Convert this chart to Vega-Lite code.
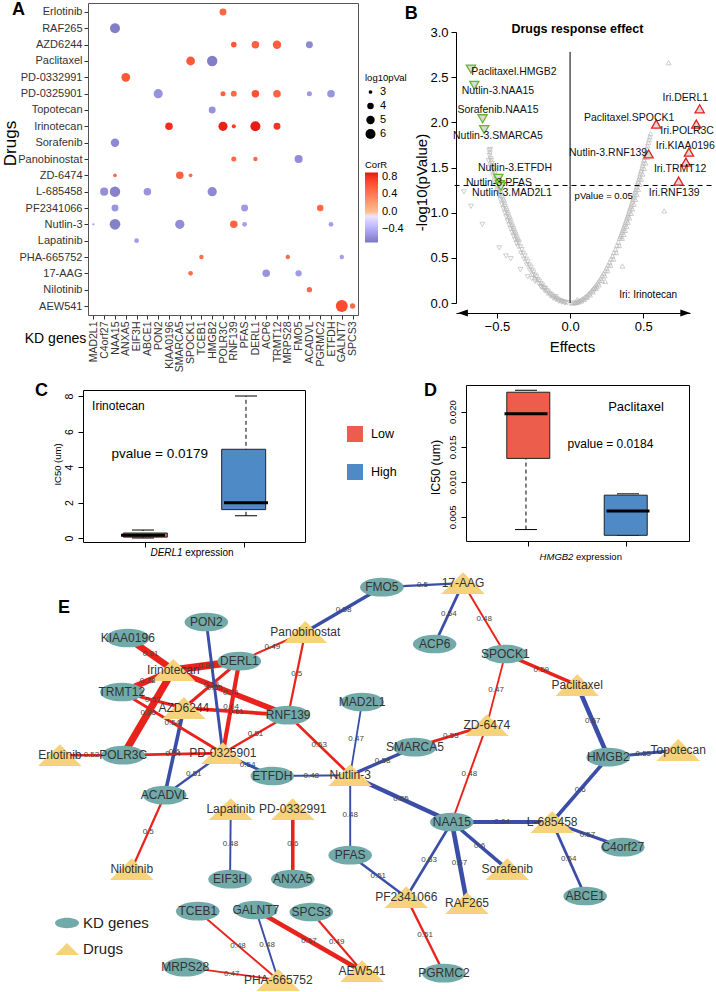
{
"$schema": "https://vega.github.io/schema/vega-lite/v6.json",
"width": 716, "height": 992, "autosize": {"type": "none"}, "padding": 0, "background": "white",
"config": {
 "view": {"stroke": null},
 "font": "Liberation Sans",
 "axis": {"grid": false, "labelFont": "Liberation Sans", "titleFont": "Liberation Sans", "titleFontWeight": "normal", "domainColor": "#000", "tickColor": "#000", "labelColor": "#000", "titleColor": "#000"},
 "legend": {"labelFont": "Liberation Sans", "titleFont": "Liberation Sans", "titleFontWeight": "normal", "labelColor": "#000", "titleColor": "#000", "padding": 0},
 "text": {"font": "Liberation Sans"}
},
"resolve": {
 "scale": {"x": "independent", "y": "independent", "color": "independent", "size": "independent", "shape": "independent", "fill": "independent", "stroke": "independent", "strokeWidth": "independent"},
 "axis": {"x": "independent", "y": "independent"},
 "legend": {"color": "independent", "size": "independent", "shape": "independent", "fill": "independent", "stroke": "independent", "strokeWidth": "independent"}
},
"datasets": {
 "dots": [
  {"d":"Erlotinib","g":"POLR3C","r":0.52,"lp":4.2},
  {"d":"RAF265","g":"NAA15","r":-0.67,"lp":6.0},
  {"d":"AZD6244","g":"RNF139","r":0.61,"lp":3.6},
  {"d":"AZD6244","g":"DERL1","r":0.56,"lp":4.5},
  {"d":"AZD6244","g":"TRMT12","r":0.57,"lp":5.0},
  {"d":"AZD6244","g":"ACADVL","r":-0.6,"lp":4.2},
  {"d":"Paclitaxel","g":"SPOCK1","r":0.59,"lp":5.2},
  {"d":"Paclitaxel","g":"HMGB2","r":-0.67,"lp":6.3},
  {"d":"PD-0332991","g":"ANXA5","r":0.6,"lp":5.2},
  {"d":"PD-0325901","g":"PON2","r":-0.55,"lp":5.4},
  {"d":"PD-0325901","g":"POLR3C","r":0.54,"lp":3.4},
  {"d":"PD-0325901","g":"RNF139","r":0.51,"lp":3.7},
  {"d":"PD-0325901","g":"DERL1","r":0.64,"lp":4.5},
  {"d":"PD-0325901","g":"TRMT12","r":0.54,"lp":4.5},
  {"d":"PD-0325901","g":"ACADVL","r":-0.51,"lp":3.4},
  {"d":"PD-0325901","g":"ETFDH","r":-0.54,"lp":4.5},
  {"d":"Topotecan","g":"HMGB2","r":-0.55,"lp":4.2},
  {"d":"Irinotecan","g":"KIAA0196","r":0.81,"lp":4.5},
  {"d":"Irinotecan","g":"POLR3C","r":0.86,"lp":5.4},
  {"d":"Irinotecan","g":"RNF139","r":0.74,"lp":3.1},
  {"d":"Irinotecan","g":"DERL1","r":0.88,"lp":6.0},
  {"d":"Irinotecan","g":"TRMT12","r":0.78,"lp":4.2},
  {"d":"Sorafenib","g":"NAA15","r":-0.6,"lp":5.0},
  {"d":"Panobinostat","g":"RNF139","r":0.5,"lp":3.4},
  {"d":"Panobinostat","g":"DERL1","r":0.49,"lp":3.2},
  {"d":"Panobinostat","g":"FMO5","r":-0.58,"lp":4.8},
  {"d":"ZD-6474","g":"NAA15","r":0.48,"lp":3.0},
  {"d":"ZD-6474","g":"SMARCA5","r":0.55,"lp":4.5},
  {"d":"ZD-6474","g":"SPOCK1","r":0.47,"lp":3.0},
  {"d":"L-685458","g":"C4orf27","r":-0.57,"lp":4.8},
  {"d":"L-685458","g":"NAA15","r":-0.64,"lp":6.3},
  {"d":"L-685458","g":"ABCE1","r":-0.54,"lp":4.5},
  {"d":"L-685458","g":"HMGB2","r":-0.6,"lp":5.5},
  {"d":"PF2341066","g":"NAA15","r":-0.53,"lp":4.2},
  {"d":"PF2341066","g":"PFAS","r":-0.51,"lp":4.2},
  {"d":"PF2341066","g":"PGRMC2","r":0.51,"lp":4.0},
  {"d":"Nutlin-3","g":"MAD2L1","r":-0.47,"lp":2.7},
  {"d":"Nutlin-3","g":"NAA15","r":-0.65,"lp":6.5},
  {"d":"Nutlin-3","g":"SMARCA5","r":-0.58,"lp":5.5},
  {"d":"Nutlin-3","g":"RNF139","r":0.53,"lp":4.5},
  {"d":"Nutlin-3","g":"PFAS","r":-0.48,"lp":3.3},
  {"d":"Nutlin-3","g":"ETFDH","r":-0.48,"lp":3.3},
  {"d":"Lapatinib","g":"EIF3H","r":-0.48,"lp":3.3},
  {"d":"PHA-665752","g":"TCEB1","r":0.48,"lp":3.2},
  {"d":"PHA-665752","g":"MRPS28","r":0.47,"lp":3.2},
  {"d":"PHA-665752","g":"GALNT7","r":-0.48,"lp":3.2},
  {"d":"17-AAG","g":"SPOCK1","r":0.48,"lp":3.3},
  {"d":"17-AAG","g":"ACP6","r":-0.54,"lp":4.5},
  {"d":"17-AAG","g":"FMO5","r":-0.5,"lp":3.9},
  {"d":"Nilotinib","g":"ACADVL","r":0.5,"lp":3.5},
  {"d":"AEW541","g":"GALNT7","r":0.67,"lp":7.5},
  {"d":"AEW541","g":"SPCS3","r":0.49,"lp":3.5}
 ],
 "vol": [
  {"e":-0.02,"p":0.003},{"e":-0.03,"p":0.006},{"e":-0.04,"p":0.008},{"e":-0.05,"p":0.015},{"e":-0.06,"p":0.02},{"e":-0.07,"p":0.027},{"e":-0.08,"p":0.033},{"e":-0.09,"p":0.045},{"e":-0.1,"p":0.052},{"e":-0.11,"p":0.066},{"e":-0.12,"p":0.077},{"e":-0.13,"p":0.093},{"e":-0.14,"p":0.104},{"e":-0.15,"p":0.123},{"e":-0.16,"p":0.136},{"e":-0.17,"p":0.158},{"e":-0.18,"p":0.173},{"e":-0.19,"p":0.197},{"e":-0.2,"p":0.214},{"e":-0.21,"p":0.24},{"e":-0.22,"p":0.258},{"e":-0.23,"p":0.288},{"e":-0.24,"p":0.309},{"e":-0.25,"p":0.34},{"e":-0.26,"p":0.362},{"e":-0.27,"p":0.396},{"e":-0.28,"p":0.42},{"e":-0.29,"p":0.456},{"e":-0.3,"p":0.483},{"e":-0.31,"p":0.521},{"e":-0.32,"p":0.55},{"e":-0.33,"p":0.59},{"e":-0.34,"p":0.621},{"e":-0.35,"p":0.664},{"e":-0.355,"p":0.68},{"e":-0.36,"p":0.698},{"e":-0.365,"p":0.72},{"e":-0.37,"p":0.741},{"e":-0.375,"p":0.76},{"e":-0.38,"p":0.778},{"e":-0.385,"p":0.8},{"e":-0.39,"p":0.823},{"e":-0.395,"p":0.842},{"e":-0.4,"p":0.862},{"e":-0.405,"p":0.886},{"e":-0.41,"p":0.91},{"e":-0.415,"p":0.93},{"e":-0.42,"p":0.951},{"e":-0.425,"p":0.976},{"e":-0.43,"p":1.0},{"e":-0.435,"p":1.02},{"e":-0.44,"p":1.043},{"e":-0.445,"p":1.07},{"e":-0.45,"p":1.095},{"e":-0.455,"p":1.118},{"e":-0.46,"p":1.141},{"e":-0.465,"p":1.168},{"e":-0.47,"p":1.195},{"e":-0.475,"p":1.218},{"e":-0.48,"p":1.242},{"e":-0.485,"p":1.27},{"e":-0.49,"p":1.298},{"e":-0.495,"p":1.322},{"e":-0.5,"p":1.348},{"e":-0.505,"p":1.378},{"e":-0.51,"p":1.403},{"e":-0.515,"p":1.43},{"e":-0.52,"p":1.462},{"e":-0.525,"p":1.49},{"e":-0.53,"p":1.515},{"e":-0.535,"p":1.545},{"e":-0.54,"p":1.577},{"e":-0.545,"p":1.6},{"e":-0.55,"p":1.632},{"e":-0.548,"p":1.66},{"e":-0.552,"p":1.69},{"e":-0.546,"p":1.7},
  {"e":-0.036,"p":0.002},{"e":-0.056,"p":0.009},{"e":-0.076,"p":0.019},{"e":-0.096,"p":0.035},{"e":-0.116,"p":0.054},{"e":-0.136,"p":0.078},{"e":-0.156,"p":0.106},{"e":-0.176,"p":0.138},{"e":-0.196,"p":0.175},{"e":-0.216,"p":0.216},{"e":-0.236,"p":0.261},{"e":-0.256,"p":0.311},{"e":-0.276,"p":0.365},{"e":-0.296,"p":0.423},{"e":-0.316,"p":0.486},{"e":-0.336,"p":0.553},{"e":-0.356,"p":0.624},{"e":-0.366,"p":0.662},{"e":-0.376,"p":0.7},{"e":-0.386,"p":0.739},{"e":-0.396,"p":0.78},{"e":-0.406,"p":0.821},{"e":-0.416,"p":0.864},{"e":-0.426,"p":0.908},{"e":-0.436,"p":0.953},{"e":-0.446,"p":0.998},{"e":-0.456,"p":1.045},{"e":-0.466,"p":1.094},{"e":-0.476,"p":1.143},{"e":-0.486,"p":1.193},{"e":-0.496,"p":1.244},{"e":-0.506,"p":1.297},{"e":-0.516,"p":1.35},{"e":-0.526,"p":1.405},{"e":-0.536,"p":1.46},{"e":-0.546,"p":1.517},{"e":-0.556,"p":1.575},
  {"e":0.01,"p":0.001},{"e":0.02,"p":0.003},{"e":0.03,"p":0.005},{"e":0.04,"p":0.011},{"e":0.05,"p":0.015},{"e":0.06,"p":0.023},{"e":0.07,"p":0.029},{"e":0.08,"p":0.041},{"e":0.09,"p":0.049},{"e":0.1,"p":0.063},{"e":0.11,"p":0.074},{"e":0.12,"p":0.09},{"e":0.13,"p":0.104},{"e":0.14,"p":0.123},{"e":0.15,"p":0.139},{"e":0.16,"p":0.16},{"e":0.17,"p":0.178},{"e":0.18,"p":0.202},{"e":0.19,"p":0.223},{"e":0.2,"p":0.249},{"e":0.21,"p":0.272},{"e":0.22,"p":0.301},{"e":0.23,"p":0.327},{"e":0.24,"p":0.358},{"e":0.25,"p":0.387},{"e":0.26,"p":0.42},{"e":0.27,"p":0.451},{"e":0.28,"p":0.487},{"e":0.29,"p":0.52},{"e":0.3,"p":0.559},{"e":0.31,"p":0.595},{"e":0.32,"p":0.636},{"e":0.33,"p":0.674},{"e":0.34,"p":0.718},{"e":0.345,"p":0.738},{"e":0.35,"p":0.759},{"e":0.355,"p":0.782},{"e":0.36,"p":0.805},{"e":0.365,"p":0.826},{"e":0.37,"p":0.85},{"e":0.375,"p":0.872},{"e":0.38,"p":0.894},{"e":0.385,"p":0.92},{"e":0.39,"p":0.944},{"e":0.395,"p":0.967},{"e":0.4,"p":0.991},{"e":0.405,"p":1.018},{"e":0.41,"p":1.043},{"e":0.415,"p":1.068},{"e":0.42,"p":1.093},{"e":0.425,"p":1.12},{"e":0.43,"p":1.147},{"e":0.435,"p":1.173},{"e":0.44,"p":1.2},{"e":0.445,"p":1.228},{"e":0.45,"p":1.255},{"e":0.455,"p":1.284},{"e":0.46,"p":1.313},{"e":0.465,"p":1.34},{"e":0.47,"p":1.37},{"e":0.475,"p":1.398},{"e":0.48,"p":1.429},{"e":0.485,"p":1.46},{"e":0.49,"p":1.488},{"e":0.495,"p":1.52},{"e":0.5,"p":1.55},{"e":0.505,"p":1.58},{"e":0.51,"p":1.612},{"e":0.515,"p":1.645},{"e":0.52,"p":1.677},{"e":0.525,"p":1.71},{"e":0.53,"p":1.741},{"e":0.535,"p":1.775},{"e":0.54,"p":1.809},{"e":0.545,"p":1.84},{"e":0.55,"p":1.875},
  {"e":0.036,"p":0.002},{"e":0.056,"p":0.01},{"e":0.076,"p":0.022},{"e":0.096,"p":0.04},{"e":0.116,"p":0.062},{"e":0.136,"p":0.089},{"e":0.156,"p":0.122},{"e":0.176,"p":0.159},{"e":0.196,"p":0.201},{"e":0.216,"p":0.248},{"e":0.236,"p":0.3},{"e":0.256,"p":0.357},{"e":0.276,"p":0.419},{"e":0.296,"p":0.486},{"e":0.316,"p":0.558},{"e":0.336,"p":0.635},{"e":0.356,"p":0.717},{"e":0.366,"p":0.76},{"e":0.376,"p":0.804},{"e":0.386,"p":0.849},{"e":0.396,"p":0.895},{"e":0.406,"p":0.943},{"e":0.416,"p":0.992},{"e":0.426,"p":1.042},{"e":0.436,"p":1.094},{"e":0.446,"p":1.146},{"e":0.456,"p":1.2},{"e":0.466,"p":1.256},{"e":0.476,"p":1.312},{"e":0.486,"p":1.37},{"e":0.496,"p":1.428},{"e":0.506,"p":1.489},{"e":0.516,"p":1.55},{"e":0.526,"p":1.613},{"e":0.536,"p":1.676},
  {"e":-0.726,"p":1.23},{"e":-0.678,"p":1.07},{"e":-0.6,"p":0.87},{"e":-0.484,"p":0.61},{"e":-0.438,"p":0.52},{"e":-0.406,"p":0.49},{"e":-0.34,"p":0.37},{"e":-0.29,"p":0.29},{"e":-0.262,"p":0.27},{"e":-0.24,"p":0.24},{"e":-0.199,"p":0.18},{"e":-0.176,"p":0.16},{"e":-0.1,"p":0.07},
  {"e":0.644,"p":1.02},{"e":0.358,"p":0.41},{"e":0.24,"p":0.24},{"e":0.183,"p":0.18},{"e":0.16,"p":0.16},{"e":0.05,"p":0.04},{"e":0.674,"p":2.66}
 ],
 "sig": [
  {"lab":"Paclitaxel.HMGB2","e":-0.678,"p":2.59,"lx":-0.384,"ly":2.556},
  {"lab":"Nutlin-3.NAA15","e":-0.655,"p":2.41,"lx":-0.493,"ly":2.344},
  {"lab":"Sorafenib.NAA15","e":-0.598,"p":2.04,"lx":-0.493,"ly":2.133},
  {"lab":"Nutlin-3.SMARCA5","e":-0.587,"p":1.92,"lx":-0.493,"ly":1.844},
  {"lab":"Nutlin-3.ETFDH","e":-0.49,"p":1.38,"lx":-0.377,"ly":1.5},
  {"lab":"Nutlin-3.PFAS","e":-0.48,"p":1.31,"lx":-0.486,"ly":1.333},
  {"lab":"Nutlin-3.MAD2L1","e":-0.473,"p":1.29,"lx":-0.397,"ly":1.222},
  {"lab":"Iri.DERL1","e":0.886,"p":2.15,"lx":0.788,"ly":2.267},
  {"lab":"Paclitaxel.SPOCK1","e":0.589,"p":1.98,"lx":0.404,"ly":2.044},
  {"lab":"Iri.POLR3C","e":0.863,"p":1.98,"lx":0.8,"ly":1.9},
  {"lab":"Nutlin-3.RNF139","e":0.537,"p":1.65,"lx":0.26,"ly":1.656},
  {"lab":"Iri.KIAA0196","e":0.813,"p":1.67,"lx":0.788,"ly":1.733},
  {"lab":"Iri.TRMT12","e":0.792,"p":1.56,"lx":0.753,"ly":1.478},
  {"lab":"Iri.RNF139","e":0.742,"p":1.35,"lx":0.712,"ly":1.222}
 ],
 "boxC": [
  {"grp":"Low","g":1,"lo":0,"q1":0.05,"med":0.15,"q3":0.28,"hi":0.45},
  {"grp":"High","g":2,"lo":1.25,"q1":1.6,"med":1.98,"q3":5.0,"hi":8.0}
 ],
 "boxD": [
  {"grp":"Low","g":1,"lo":0.0032,"q1":0.01334,"med":0.0197,"q3":0.02277,"hi":0.02305},
  {"grp":"High","g":2,"lo":0.00238,"q1":0.00238,"med":0.00586,"q3":0.0081,"hi":0.00829}
 ],
 "nodes": [
  {"id":"PON2","type":"KD genes","nx":25.2,"ny":10.5},
  {"id":"KIAA0196","type":"KD genes","nx":13.3,"ny":14.5},
  {"id":"Panobinostat","type":"Drugs","nx":40.2,"ny":13.0},
  {"id":"DERL1","type":"KD genes","nx":30.2,"ny":20.3},
  {"id":"Irinotecan","type":"Drugs","nx":20.2,"ny":22.5},
  {"id":"TRMT12","type":"KD genes","nx":12.4,"ny":28},
  {"id":"AZD6244","type":"Drugs","nx":21.8,"ny":32},
  {"id":"RNF139","type":"KD genes","nx":37.6,"ny":33.8},
  {"id":"MAD2L1","type":"KD genes","nx":48.8,"ny":30.5},
  {"id":"Erlotinib","type":"Drugs","nx":3.0,"ny":43.8},
  {"id":"POLR3C","type":"KD genes","nx":12.6,"ny":43.8},
  {"id":"PD-0325901","type":"Drugs","nx":27.7,"ny":43.3},
  {"id":"ETFDH","type":"KD genes","nx":35.2,"ny":49},
  {"id":"Nutlin-3","type":"Drugs","nx":47.0,"ny":48.8},
  {"id":"SMARCA5","type":"KD genes","nx":56.8,"ny":41.8},
  {"id":"ZD-6474","type":"Drugs","nx":67.7,"ny":36.3},
  {"id":"SPOCK1","type":"KD genes","nx":70.5,"ny":18.5},
  {"id":"ACP6","type":"KD genes","nx":59.8,"ny":16},
  {"id":"Paclitaxel","type":"Drugs","nx":81.4,"ny":26.3},
  {"id":"HMGB2","type":"KD genes","nx":86.1,"ny":44.3},
  {"id":"Topotecan","type":"Drugs","nx":96.7,"ny":42.5},
  {"id":"FMO5","type":"KD genes","nx":51.8,"ny":1.8},
  {"id":"17-AAG","type":"Drugs","nx":64.1,"ny":0.8},
  {"id":"ACADVL","type":"KD genes","nx":18.9,"ny":53.8},
  {"id":"Lapatinib","type":"Drugs","nx":28.9,"ny":57.3},
  {"id":"PD-0332991","type":"Drugs","nx":38.3,"ny":57.3},
  {"id":"EIF3H","type":"KD genes","nx":28.8,"ny":74.8},
  {"id":"ANXA5","type":"KD genes","nx":38.3,"ny":74.8},
  {"id":"Nilotinib","type":"Drugs","nx":13.9,"ny":72.3},
  {"id":"PFAS","type":"KD genes","nx":47.0,"ny":68.8},
  {"id":"NAA15","type":"KD genes","nx":62.4,"ny":60.5},
  {"id":"L-685458","type":"Drugs","nx":77.6,"ny":60.5},
  {"id":"C4orf27","type":"KD genes","nx":88.3,"ny":66.8},
  {"id":"ABCE1","type":"KD genes","nx":82.6,"ny":79},
  {"id":"Sorafenib","type":"Drugs","nx":70.8,"ny":72.3},
  {"id":"RAF265","type":"Drugs","nx":64.7,"ny":80.8},
  {"id":"PF2341066","type":"Drugs","nx":55.5,"ny":79.3},
  {"id":"PGRMC2","type":"KD genes","nx":61.2,"ny":98.3},
  {"id":"AEW541","type":"Drugs","nx":48.8,"ny":97.8},
  {"id":"TCEB1","type":"KD genes","nx":23.9,"ny":82.8},
  {"id":"GALNT7","type":"KD genes","nx":32.7,"ny":82.5},
  {"id":"SPCS3","type":"KD genes","nx":41.1,"ny":83},
  {"id":"MRPS28","type":"KD genes","nx":22.0,"ny":96.8},
  {"id":"PHA-665752","type":"Drugs","nx":36.1,"ny":100}
 ],
 "edges": [
  {"eid":1,"s":"Irinotecan","t":"KIAA0196","r":0.81,"sg":"pos"},
  {"eid":2,"s":"Irinotecan","t":"DERL1","r":0.88,"sg":"pos"},
  {"eid":3,"s":"Irinotecan","t":"TRMT12","r":0.78,"sg":"pos"},
  {"eid":4,"s":"Irinotecan","t":"POLR3C","r":0.86,"sg":"pos"},
  {"eid":5,"s":"Irinotecan","t":"RNF139","r":0.74,"sg":"pos"},
  {"eid":6,"s":"AZD6244","t":"TRMT12","r":0.57,"sg":"pos"},
  {"eid":7,"s":"AZD6244","t":"DERL1","r":0.56,"sg":"pos"},
  {"eid":8,"s":"AZD6244","t":"RNF139","r":0.61,"sg":"pos"},
  {"eid":9,"s":"AZD6244","t":"ACADVL","r":0.6,"sg":"neg"},
  {"eid":10,"s":"PD-0325901","t":"TRMT12","r":0.54,"sg":"pos"},
  {"eid":11,"s":"PD-0325901","t":"PON2","r":0.55,"sg":"neg"},
  {"eid":12,"s":"PD-0325901","t":"DERL1","r":0.64,"sg":"pos"},
  {"eid":13,"s":"PD-0325901","t":"RNF139","r":0.51,"sg":"pos"},
  {"eid":14,"s":"PD-0325901","t":"ETFDH","r":0.54,"sg":"neg"},
  {"eid":15,"s":"PD-0325901","t":"ACADVL","r":0.51,"sg":"neg"},
  {"eid":16,"s":"PD-0325901","t":"POLR3C","r":0.54,"sg":"pos"},
  {"eid":17,"s":"Erlotinib","t":"POLR3C","r":0.52,"sg":"pos"},
  {"eid":18,"s":"Nilotinib","t":"ACADVL","r":0.5,"sg":"pos"},
  {"eid":19,"s":"Panobinostat","t":"DERL1","r":0.49,"sg":"pos"},
  {"eid":20,"s":"Panobinostat","t":"RNF139","r":0.5,"sg":"pos"},
  {"eid":21,"s":"Panobinostat","t":"FMO5","r":0.58,"sg":"neg"},
  {"eid":22,"s":"17-AAG","t":"FMO5","r":0.5,"sg":"neg"},
  {"eid":23,"s":"17-AAG","t":"ACP6","r":0.54,"sg":"neg"},
  {"eid":24,"s":"17-AAG","t":"SPOCK1","r":0.48,"sg":"pos"},
  {"eid":25,"s":"Paclitaxel","t":"SPOCK1","r":0.59,"sg":"pos"},
  {"eid":26,"s":"ZD-6474","t":"SPOCK1","r":0.47,"sg":"pos"},
  {"eid":27,"s":"Paclitaxel","t":"HMGB2","r":0.67,"sg":"neg"},
  {"eid":28,"s":"Topotecan","t":"HMGB2","r":0.55,"sg":"neg"},
  {"eid":29,"s":"L-685458","t":"HMGB2","r":0.6,"sg":"neg"},
  {"eid":30,"s":"L-685458","t":"NAA15","r":0.64,"sg":"neg"},
  {"eid":31,"s":"L-685458","t":"C4orf27","r":0.57,"sg":"neg"},
  {"eid":32,"s":"L-685458","t":"ABCE1","r":0.54,"sg":"neg"},
  {"eid":33,"s":"Nutlin-3","t":"NAA15","r":0.65,"sg":"neg"},
  {"eid":34,"s":"ZD-6474","t":"NAA15","r":0.48,"sg":"pos"},
  {"eid":35,"s":"PF2341066","t":"NAA15","r":0.53,"sg":"neg"},
  {"eid":36,"s":"RAF265","t":"NAA15","r":0.67,"sg":"neg"},
  {"eid":37,"s":"Sorafenib","t":"NAA15","r":0.6,"sg":"neg"},
  {"eid":38,"s":"PF2341066","t":"PFAS","r":0.51,"sg":"neg"},
  {"eid":39,"s":"PF2341066","t":"PGRMC2","r":0.51,"sg":"pos"},
  {"eid":40,"s":"Nutlin-3","t":"PFAS","r":0.48,"sg":"neg"},
  {"eid":41,"s":"Nutlin-3","t":"MAD2L1","r":0.47,"sg":"neg"},
  {"eid":42,"s":"Nutlin-3","t":"SMARCA5","r":0.58,"sg":"neg"},
  {"eid":43,"s":"ZD-6474","t":"SMARCA5","r":0.55,"sg":"pos"},
  {"eid":44,"s":"Nutlin-3","t":"ETFDH","r":0.48,"sg":"neg"},
  {"eid":45,"s":"Nutlin-3","t":"RNF139","r":0.53,"sg":"pos"},
  {"eid":46,"s":"Lapatinib","t":"EIF3H","r":0.48,"sg":"neg"},
  {"eid":47,"s":"PD-0332991","t":"ANXA5","r":0.6,"sg":"pos"},
  {"eid":48,"s":"PHA-665752","t":"TCEB1","r":0.48,"sg":"pos"},
  {"eid":49,"s":"PHA-665752","t":"GALNT7","r":0.48,"sg":"neg"},
  {"eid":50,"s":"PHA-665752","t":"MRPS28","r":0.47,"sg":"pos"},
  {"eid":51,"s":"AEW541","t":"GALNT7","r":0.67,"sg":"pos"},
  {"eid":52,"s":"AEW541","t":"SPCS3","r":0.49,"sg":"pos"}
 ]
},
"layer": [
 {"data":{"name":"dots"},"mark":{"type":"circle","opacity":0},
  "encoding":{
   "x":{"field":"g","type":"nominal","scale":{"type":"point","domain":["MAD2L1","C4orf27","NAA15","ANXA5","EIF3H","ABCE1","PON2","KIAA0196","SMARCA5","SPOCK1","TCEB1","HMGB2","POLR3C","RNF139","PFAS","DERL1","ACP6","TRMT12","MRPS28","FMO5","ACADVL","PGRMC2","ETFDH","GALNT7","SPCS3"],"range":[88,358],"padding":0.5},"axis":{"orient":"top","offset":-3,"labels":false,"ticks":false,"title":null,"domainColor":"#555"}},
   "y":{"field":"d","type":"nominal","scale":{"type":"point","domain":["Erlotinib","RAF265","AZD6244","Paclitaxel","PD-0332991","PD-0325901","Topotecan","Irinotecan","Sorafenib","Panobinostat","ZD-6474","L-685458","PF2341066","Nutlin-3","Lapatinib","PHA-665752","17-AAG","Nilotinib","AEW541"],"range":[3,315],"padding":0.55},"axis":{"orient":"right","offset":-358,"labels":false,"ticks":false,"title":null,"domainColor":"#555"}}
  }},
 {"data":{"name":"dots"},"mark":{"type":"circle","opacity":1},
  "encoding":{
   "x":{"field":"g","type":"nominal","scale":{"type":"point","domain":["MAD2L1","C4orf27","NAA15","ANXA5","EIF3H","ABCE1","PON2","KIAA0196","SMARCA5","SPOCK1","TCEB1","HMGB2","POLR3C","RNF139","PFAS","DERL1","ACP6","TRMT12","MRPS28","FMO5","ACADVL","PGRMC2","ETFDH","GALNT7","SPCS3"],"range":[88,358],"padding":0.5},
        "axis":{"orient":"bottom","offset":-677,"labelAngle":-90,"labelFontSize":10.5,"labelColor":"#333","tickSize":4,"tickColor":"#333","domainColor":"#555","labelPadding":2,"labelOverlap":false,"title":"KD genes","titleFontSize":14,"titleX":55,"titleY":23,"titleAngle":0,"titleAlign":"center","titleBaseline":"middle"}},
   "y":{"field":"d","type":"nominal","scale":{"type":"point","domain":["Erlotinib","RAF265","AZD6244","Paclitaxel","PD-0332991","PD-0325901","Topotecan","Irinotecan","Sorafenib","Panobinostat","ZD-6474","L-685458","PF2341066","Nutlin-3","Lapatinib","PHA-665752","17-AAG","Nilotinib","AEW541"],"range":[3,315],"padding":0.55},
        "axis":{"orient":"left","offset":-88,"labelFontSize":11,"labelColor":"#333","tickSize":4,"tickColor":"#333","domainColor":"#555","labelPadding":2,"labelOverlap":false,"title":"Drugs","titleFontSize":17,"titleX":-78,"titleY":143,"titleAngle":-90,"titleAlign":"center","titleBaseline":"middle"}},
   "color":{"field":"r","type":"quantitative","scale":{"domain":[-0.7,0,0.9],"range":["#7c78c0","#ffffff","#e3150f"]},
        "legend":{"orient":"none","legendX":365,"legendY":160,"direction":"vertical","title":"CorR","titleFontSize":9.5,"titlePadding":3,"gradientLength":70,"gradientThickness":13,"gradientStrokeWidth":0,"values":[-0.4,0,0.4,0.8],"format":".1f","labelFontSize":11,"labelOffset":4}},
   "size":{"field":"lp","type":"quantitative","scale":{"domain":[3,6],"range":[14,100]},
        "legend":{"orient":"none","legendX":365,"legendY":73,"title":"log10pVal","titleFontSize":9.5,"titlePadding":4,"values":[3,4,5,6],"format":"d","labelFontSize":11,"rowPadding":2,"symbolStrokeWidth":0}}
  }},
 {"data":{"name":"vol"},"mark":{"type":"point","filled":false,"color":"#b9b9b9","size":24,"strokeWidth":1},
  "encoding":{
   "x":{"field":"e","type":"quantitative","scale":{"domain":[-0.78,0.82],"range":[456,690],"nice":false,"zero":false},
        "axis":{"orient":"bottom","offset":-679,"values":[-0.5,0,0.5],"format":".1f","labelFontSize":13,"tickSize":5,"labelPadding":2,"labelFlush":false,"title":"Effects","titleFontSize":15,"titleX":572,"titleY":33,"titleAlign":"center","titleBaseline":"middle"}},
   "y":{"field":"p","type":"quantitative","scale":{"domain":[0,3],"range":[303,32],"nice":false,"zero":false},
        "axis":{"orient":"left","offset":-456,"values":[0,0.5,1,1.5,2,2.5,3],"format":".1f","labelFontSize":13,"tickSize":5,"labelPadding":3,"labelOverlap":false,"labelFlush":false,"title":"-log10(pValue)","titleFontSize":15,"titleX":-35,"titleY":182,"titleAngle":-90,"titleAlign":"center","titleBaseline":"middle"}},
   "shape":{"condition":{"test":"datum.e < 0","value":"triangle-down"},"value":"triangle-up"}
  }},
 {"data":{"values":[{}]},"mark":{"type":"rule","color":"#000","strokeWidth":1},
  "encoding":{"x":{"datum":0,"type":"quantitative","scale":{"domain":[-0.78,0.82],"range":[456,690],"nice":false,"zero":false},"axis":null},
   "y":{"datum":0,"type":"quantitative","scale":{"domain":[0,3],"range":[303,32],"nice":false,"zero":false},"axis":null},"y2":{"datum":2.78}}},
 {"data":{"values":[{}]},"mark":{"type":"rule","color":"#000","strokeWidth":1,"strokeDash":[5,4]},
  "encoding":{"x":{"datum":-0.79,"type":"quantitative","scale":{"domain":[-0.78,0.82],"range":[456,690],"nice":false,"zero":false},"axis":null},"x2":{"datum":0.97},
   "y":{"datum":1.301,"type":"quantitative","scale":{"domain":[0,3],"range":[303,32],"nice":false,"zero":false},"axis":null}}},
 {"data":{"values":[{}]},"mark":{"type":"point","filled":true,"color":"#000","opacity":1,"size":100,"shape":"M-1,0L1,-0.7L1,0.7Z"},
  "encoding":{"x":{"datum":-0.733,"type":"quantitative","scale":{"domain":[-0.78,0.82],"range":[456,690],"nice":false,"zero":false},"axis":null},
   "y":{"datum":-0.111,"type":"quantitative","scale":{"domain":[0,3],"range":[303,32],"nice":false,"zero":false},"axis":null}}},
 {"data":{"values":[{}]},"mark":{"type":"point","filled":true,"color":"#000","opacity":1,"size":100,"shape":"M1,0L-1,-0.7L-1,0.7Z"},
  "encoding":{"x":{"datum":0.788,"type":"quantitative","scale":{"domain":[-0.78,0.82],"range":[456,690],"nice":false,"zero":false},"axis":null},
   "y":{"datum":-0.111,"type":"quantitative","scale":{"domain":[0,3],"range":[303,32],"nice":false,"zero":false},"axis":null}}},
 {"data":{"name":"sig"},"mark":{"type":"point","filled":true,"fill":"#dadada","opacity":1,"size":85,"strokeWidth":1.3},
  "encoding":{"x":{"field":"e","type":"quantitative","scale":{"domain":[-0.78,0.82],"range":[456,690],"nice":false,"zero":false},"axis":null},
   "y":{"field":"p","type":"quantitative","scale":{"domain":[0,3],"range":[303,32],"nice":false,"zero":false},"axis":null},
   "shape":{"condition":{"test":"datum.e < 0","value":"triangle-down"},"value":"triangle-up"},
   "stroke":{"condition":{"test":"datum.e < 0","value":"#6ab42d"},"value":"#e3201b"}}},
 {"data":{"name":"sig"},"mark":{"type":"text","fontSize":10.5,"color":"#111"},
  "encoding":{"x":{"field":"lx","type":"quantitative","scale":{"domain":[-0.78,0.82],"range":[456,690],"nice":false,"zero":false},"axis":null},
   "y":{"field":"ly","type":"quantitative","scale":{"domain":[0,3],"range":[303,32],"nice":false,"zero":false},"axis":null},
   "text":{"field":"lab"}}},
 {"data":{"values":[{}]},"mark":{"type":"text","text":"Drugs response effect","fontWeight":"bold","fontSize":12.5,"color":"#000"},
  "encoding":{"x":{"datum":0.05,"type":"quantitative","scale":{"domain":[-0.78,0.82],"range":[456,690],"nice":false,"zero":false},"axis":null},
   "y":{"datum":3.03,"type":"quantitative","scale":{"domain":[0,3],"range":[303,32],"nice":false,"zero":false},"axis":null}}},
 {"data":{"values":[{}]},"mark":{"type":"text","text":"pValue = 0.05","fontSize":9.5,"color":"#000"},
  "encoding":{"x":{"datum":0.23,"type":"quantitative","scale":{"domain":[-0.78,0.82],"range":[456,690],"nice":false,"zero":false},"axis":null},
   "y":{"datum":1.19,"type":"quantitative","scale":{"domain":[0,3],"range":[303,32],"nice":false,"zero":false},"axis":null}}},
 {"data":{"values":[{}]},"mark":{"type":"text","text":"Iri: Irinotecan","fontSize":10,"color":"#000"},
  "encoding":{"x":{"datum":0.534,"type":"quantitative","scale":{"domain":[-0.78,0.82],"range":[456,690],"nice":false,"zero":false},"axis":null},
   "y":{"datum":0.089,"type":"quantitative","scale":{"domain":[0,3],"range":[303,32],"nice":false,"zero":false},"axis":null}}},
 {"data":{"values":[{}]},"mark":{"type":"text","text":"A","fontWeight":"bold","fontSize":18,"color":"#000"},
  "encoding":{"x":{"datum":-3.771,"type":"quantitative","scale":{"domain":[-0.78,0.82],"range":[456,690],"nice":false,"zero":false},"axis":null},
   "y":{"datum":3.244,"type":"quantitative","scale":{"domain":[0,3],"range":[303,32],"nice":false,"zero":false},"axis":null}}},
 {"data":{"values":[{}]},"mark":{"type":"text","text":"B","fontWeight":"bold","fontSize":18,"color":"#000"},
  "encoding":{"x":{"datum":-1.086,"type":"quantitative","scale":{"domain":[-0.78,0.82],"range":[456,690],"nice":false,"zero":false},"axis":null},
   "y":{"datum":3.194,"type":"quantitative","scale":{"domain":[0,3],"range":[303,32],"nice":false,"zero":false},"axis":null}}},

 {"data":{"name":"boxC"},"mark":{"type":"rule","color":"#000","strokeWidth":1,"strokeDash":[4,3]},
  "encoding":{"x":{"field":"g","type":"quantitative","scale":{"domain":[0.417,2.573],"range":[83,305],"nice":false,"zero":false},"axis":null},
   "y":{"field":"lo","type":"quantitative","scale":{"domain":[-0.225,8.34],"range":[542,390],"nice":false,"zero":false},"axis":null},"y2":{"field":"hi"}}},
 {"data":{"name":"boxC"},"transform":[{"fold":["lo","hi"],"as":["k","v"]}],"mark":{"type":"tick","orient":"horizontal","color":"#000","size":22,"thickness":1,"opacity":1},
  "encoding":{"x":{"field":"g","type":"quantitative","scale":{"domain":[0.417,2.573],"range":[83,305],"nice":false,"zero":false},"axis":null},
   "y":{"field":"v","type":"quantitative","scale":{"domain":[-0.225,8.34],"range":[542,390],"nice":false,"zero":false},"axis":null}}},
 {"data":{"name":"boxC"},"mark":{"type":"bar","width":44,"stroke":"#222","strokeWidth":1},
  "encoding":{"x":{"field":"g","type":"quantitative","scale":{"domain":[0.417,2.573],"range":[83,305],"nice":false,"zero":false},
        "axis":{"orient":"bottom","offset":-450,"values":[1,2],"labels":false,"tickSize":5,"title":null}},
   "y":{"field":"q1","type":"quantitative","scale":{"domain":[-0.225,8.34],"range":[542,390],"nice":false,"zero":false},
        "axis":{"orient":"left","offset":-83,"values":[0,2,4,6,8],"format":"d","labelAngle":-90,"labelAlign":"center","labelBaseline":"bottom","labelFontSize":10.5,"labelPadding":4,"tickSize":5,"title":"IC50 (um)","titleFontSize":9.5,"titleX":-26,"titleY":464,"titleAngle":-90,"titleAlign":"center","titleBaseline":"middle"}},
   "y2":{"field":"q3"},
   "fill":{"field":"grp","type":"nominal","scale":{"domain":["Low","High"],"range":["#ec5e4b","#4e8bc6"]},
        "legend":{"orient":"none","legendX":347,"legendY":426,"title":null,"symbolType":"square","symbolSize":256,"symbolStrokeWidth":0,"labelFontSize":12.5,"labelOffset":8,"rowPadding":22}}}},
 {"data":{"name":"boxC"},"mark":{"type":"tick","orient":"horizontal","color":"#000","size":44,"thickness":3,"opacity":1},
  "encoding":{"x":{"field":"g","type":"quantitative","scale":{"domain":[0.417,2.573],"range":[83,305],"nice":false,"zero":false},"axis":null},
   "y":{"field":"med","type":"quantitative","scale":{"domain":[-0.225,8.34],"range":[542,390],"nice":false,"zero":false},"axis":null}}},
 {"data":{"values":[{}]},"mark":{"type":"text","text":"Irinotecan","align":"left","fontSize":12,"color":"#000"},
  "encoding":{"x":{"datum":0.505,"type":"quantitative","scale":{"domain":[0.417,2.573],"range":[83,305],"nice":false,"zero":false},"axis":{"orient":"top","offset":-390,"labels":false,"ticks":false,"title":null}},
   "y":{"datum":7.44,"type":"quantitative","scale":{"domain":[-0.225,8.34],"range":[542,390],"nice":false,"zero":false},"axis":{"orient":"right","offset":-411,"labels":false,"ticks":false,"title":null}}}},
 {"data":{"values":[{}]},"mark":{"type":"text","text":"pvalue = 0.0179","fontSize":13.5,"color":"#000"},
  "encoding":{"x":{"datum":1.162,"type":"quantitative","scale":{"domain":[0.417,2.573],"range":[83,305],"nice":false,"zero":false},"axis":null},
   "y":{"datum":4.73,"type":"quantitative","scale":{"domain":[-0.225,8.34],"range":[542,390],"nice":false,"zero":false},"axis":null}}},
 {"data":{"values":[{}]},"mark":{"type":"text","text":"DERL1","align":"right","fontStyle":"italic","fontSize":10,"color":"#000"},
  "encoding":{"x":{"datum":1.385,"type":"quantitative","scale":{"domain":[0.417,2.573],"range":[83,305],"nice":false,"zero":false},"axis":null},
   "y":{"datum":-0.845,"type":"quantitative","scale":{"domain":[-0.225,8.34],"range":[542,390],"nice":false,"zero":false},"axis":null}}},
 {"data":{"values":[{}]},"mark":{"type":"text","text":"expression","align":"left","fontSize":10,"color":"#000"},
  "encoding":{"x":{"datum":1.41,"type":"quantitative","scale":{"domain":[0.417,2.573],"range":[83,305],"nice":false,"zero":false},"axis":null},
   "y":{"datum":-0.845,"type":"quantitative","scale":{"domain":[-0.225,8.34],"range":[542,390],"nice":false,"zero":false},"axis":null}}},
 {"data":{"values":[{}]},"mark":{"type":"text","text":"C","fontWeight":"bold","fontSize":18,"color":"#000"},
  "encoding":{"x":{"datum":0.015,"type":"quantitative","scale":{"domain":[0.417,2.573],"range":[83,305],"nice":false,"zero":false},"axis":null},
   "y":{"datum":8.28,"type":"quantitative","scale":{"domain":[-0.225,8.34],"range":[542,390],"nice":false,"zero":false},"axis":null}}},

 {"data":{"name":"boxD"},"mark":{"type":"rule","color":"#000","strokeWidth":1,"strokeDash":[4,3]},
  "encoding":{"x":{"field":"g","type":"quantitative","scale":{"domain":[0.412,2.598],"range":[466,689],"nice":false,"zero":false},"axis":null},
   "y":{"field":"lo","type":"quantitative","scale":{"domain":[0.00157,0.0238],"range":[541,385],"nice":false,"zero":false},"axis":null},"y2":{"field":"hi"}}},
 {"data":{"name":"boxD"},"transform":[{"fold":["lo","hi"],"as":["k","v"]}],"mark":{"type":"tick","orient":"horizontal","color":"#000","size":22,"thickness":1,"opacity":1},
  "encoding":{"x":{"field":"g","type":"quantitative","scale":{"domain":[0.412,2.598],"range":[466,689],"nice":false,"zero":false},"axis":null},
   "y":{"field":"v","type":"quantitative","scale":{"domain":[0.00157,0.0238],"range":[541,385],"nice":false,"zero":false},"axis":null}}},
 {"data":{"name":"boxD"},"mark":{"type":"bar","width":43,"stroke":"#222","strokeWidth":1},
  "encoding":{"x":{"field":"g","type":"quantitative","scale":{"domain":[0.412,2.598],"range":[466,689],"nice":false,"zero":false},
        "axis":{"orient":"bottom","offset":-451,"values":[1,2],"labels":false,"tickSize":5,"title":null}},
   "y":{"field":"q1","type":"quantitative","scale":{"domain":[0.00157,0.0238],"range":[541,385],"nice":false,"zero":false},
        "axis":{"orient":"left","offset":-466,"values":[0.005,0.01,0.015,0.02],"format":".3f","labelAngle":-90,"labelAlign":"center","labelBaseline":"bottom","labelFontSize":9.5,"labelPadding":4,"tickSize":5,"title":"IC50 (um)","titleFontSize":12.5,"titleX":-31,"titleY":467,"titleAngle":-90,"titleAlign":"center","titleBaseline":"middle"}},
   "y2":{"field":"q3"},
   "fill":{"field":"grp","type":"nominal","scale":{"domain":["Low","High"],"range":["#ec5e4b","#4e8bc6"]},"legend":null}}},
 {"data":{"name":"boxD"},"mark":{"type":"tick","orient":"horizontal","color":"#000","size":43,"thickness":3,"opacity":1},
  "encoding":{"x":{"field":"g","type":"quantitative","scale":{"domain":[0.412,2.598],"range":[466,689],"nice":false,"zero":false},"axis":null},
   "y":{"field":"med","type":"quantitative","scale":{"domain":[0.00157,0.0238],"range":[541,385],"nice":false,"zero":false},"axis":null}}},
 {"data":{"values":[{}]},"mark":{"type":"text","text":"Paclitaxel","fontSize":13,"color":"#000"},
  "encoding":{"x":{"datum":2.078,"type":"quantitative","scale":{"domain":[0.412,2.598],"range":[466,689],"nice":false,"zero":false},"axis":{"orient":"top","offset":-385,"labels":false,"ticks":false,"title":null}},
   "y":{"datum":0.02071,"type":"quantitative","scale":{"domain":[0.00157,0.0238],"range":[541,385],"nice":false,"zero":false},"axis":{"orient":"right","offset":-27,"labels":false,"ticks":false,"title":null}}}},
 {"data":{"values":[{}]},"mark":{"type":"text","text":"pvalue = 0.0184","fontSize":12,"color":"#000"},
  "encoding":{"x":{"datum":1.828,"type":"quantitative","scale":{"domain":[0.412,2.598],"range":[466,689],"nice":false,"zero":false},"axis":null},
   "y":{"datum":0.015386,"type":"quantitative","scale":{"domain":[0.00157,0.0238],"range":[541,385],"nice":false,"zero":false},"axis":null}}},
 {"data":{"values":[{}]},"mark":{"type":"text","text":"HMGB2","align":"right","fontStyle":"italic","fontSize":9.5,"color":"#000"},
  "encoding":{"x":{"datum":1.465,"type":"quantitative","scale":{"domain":[0.412,2.598],"range":[466,689],"nice":false,"zero":false},"axis":null},
   "y":{"datum":-0.00071,"type":"quantitative","scale":{"domain":[0.00157,0.0238],"range":[541,385],"nice":false,"zero":false},"axis":null}}},
 {"data":{"values":[{}]},"mark":{"type":"text","text":"expression","align":"left","fontSize":9.5,"color":"#000"},
  "encoding":{"x":{"datum":1.49,"type":"quantitative","scale":{"domain":[0.412,2.598],"range":[466,689],"nice":false,"zero":false},"axis":null},
   "y":{"datum":-0.00071,"type":"quantitative","scale":{"domain":[0.00157,0.0238],"range":[541,385],"nice":false,"zero":false},"axis":null}}},
 {"data":{"values":[{}]},"mark":{"type":"text","text":"D","fontWeight":"bold","fontSize":18,"color":"#000"},
  "encoding":{"x":{"datum":0.064,"type":"quantitative","scale":{"domain":[0.412,2.598],"range":[466,689],"nice":false,"zero":false},"axis":null},
   "y":{"datum":0.02296,"type":"quantitative","scale":{"domain":[0.00157,0.0238],"range":[541,385],"nice":false,"zero":false},"axis":null}}},

 {"data":{"name":"edges"},
  "transform":[
   {"lookup":"s","from":{"data":{"name":"nodes"},"key":"id","fields":["nx","ny"]},"as":["sx","sy"]},
   {"lookup":"t","from":{"data":{"name":"nodes"},"key":"id","fields":["nx","ny"]},"as":["tx","ty"]}
  ],
  "mark":{"type":"rule","strokeCap":"butt"},
  "encoding":{"x":{"field":"sx","type":"quantitative","scale":{"domain":[0,100],"range":[40,700],"nice":false,"zero":false},"axis":null},
   "y":{"field":"sy","type":"quantitative","scale":{"domain":[0,100],"range":[580,980],"nice":false,"zero":false},"axis":null},
   "x2":{"field":"tx"},"y2":{"field":"ty"},
   "color":{"field":"sg","type":"nominal","scale":{"domain":["pos","neg"],"range":["#e8231b","#3a4ea8"]},"legend":null},
   "strokeWidth":{"field":"r","type":"quantitative","scale":{"domain":[0.47,0.88],"range":[1.8,7.5]},"legend":null}}},
 {"data":{"name":"nodes"},"mark":{"type":"point","filled":true,"opacity":1,"size":1900,"strokeWidth":0},
  "encoding":{"x":{"field":"nx","type":"quantitative","scale":{"domain":[0,100],"range":[40,700],"nice":false,"zero":false},"axis":null},
   "y":{"field":"ny","type":"quantitative","scale":{"domain":[0,100],"range":[580,980],"nice":false,"zero":false},"axis":null},
   "fill":{"field":"type","type":"nominal","scale":{"domain":["KD genes","Drugs"],"range":["#72aaaa","#f6d27b"]},
     "legend":{"orient":"none","legendX":55,"legendY":911,"title":null,"symbolSize":576,"symbolStrokeWidth":0,"labelFontSize":15,"labelColor":"#222","rowPadding":6,"labelOffset":4}},
   "shape":{"field":"type","type":"nominal","scale":{"domain":["KD genes","Drugs"],"range":["M-1,0C-1,-0.238,-0.552,-0.43,0,-0.43C0.552,-0.43,1,-0.238,1,0C1,0.238,0.552,0.43,0,0.43C-0.552,0.43,-1,0.238,-1,0Z","M0,-0.5L1,0.5L-1,0.5Z"]},
     "legend":{"orient":"none","legendX":55,"legendY":911,"title":null,"symbolSize":576,"symbolStrokeWidth":0,"labelFontSize":15,"labelColor":"#222","rowPadding":6,"labelOffset":4}}}},
 {"data":{"name":"edges"},
  "transform":[
   {"fold":["s","t"],"as":["end","node"]},
   {"lookup":"node","from":{"data":{"name":"nodes"},"key":"id","fields":["nx","ny"]}},
   {"aggregate":[{"op":"mean","field":"nx","as":"mx"},{"op":"mean","field":"ny","as":"my"}],"groupby":["eid","r"]}
  ],
  "mark":{"type":"text","fontSize":8,"color":"#444"},
  "encoding":{"x":{"field":"mx","type":"quantitative","scale":{"domain":[0,100],"range":[40,700],"nice":false,"zero":false},"axis":null},
   "y":{"field":"my","type":"quantitative","scale":{"domain":[0,100],"range":[580,980],"nice":false,"zero":false},"axis":null},
   "text":{"field":"r","type":"quantitative","format":"~g"}}},
 {"data":{"name":"nodes"},"mark":{"type":"text","fontSize":12,"color":"#333"},
  "encoding":{"x":{"field":"nx","type":"quantitative","scale":{"domain":[0,100],"range":[40,700],"nice":false,"zero":false},"axis":null},
   "y":{"field":"ny","type":"quantitative","scale":{"domain":[0,100],"range":[580,980],"nice":false,"zero":false},"axis":null},
   "text":{"field":"id"}}},
 {"data":{"values":[{}]},"mark":{"type":"text","text":"E","fontWeight":"bold","fontSize":18,"color":"#000"},
  "encoding":{"x":{"datum":3.64,"type":"quantitative","scale":{"domain":[0,100],"range":[40,700],"nice":false,"zero":false},"axis":null},
   "y":{"datum":7.0,"type":"quantitative","scale":{"domain":[0,100],"range":[580,980],"nice":false,"zero":false},"axis":null}}}
]
}
